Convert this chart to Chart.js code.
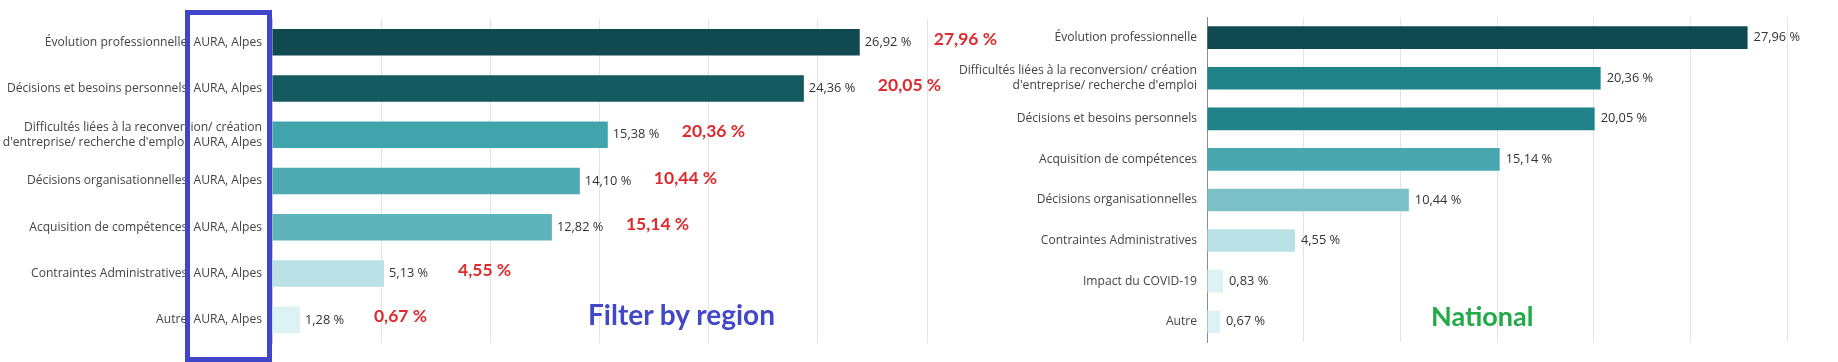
<!DOCTYPE html>
<html>
<head>
<meta charset="utf-8">
<script src="https://cdn.jsdelivr.net/npm/chart.js@4"></script>
<style>
  html, body { margin: 0; padding: 0; background: #fff; }
  body { width: 1838px; height: 362px; position: relative; overflow: hidden; }
  .wrap { position: absolute; top: 0; height: 362px; }
  #wrapRegion { left: 0; width: 1010px; }
  #wrapNational { left: 900px; width: 938px; }
  .note { position: absolute; font-family: Lato, "Open Sans", sans-serif; font-weight: 700; white-space: nowrap; }
  #filterBox { position: absolute; left: 185px; top: 10px; width: 77px; height: 342px; border: 5px solid #4146C8; }
</style>
</head>
<body>
<div class="wrap" id="wrapRegion"><canvas id="chartRegion" width="1010" height="362"></canvas></div>
<div class="wrap" id="wrapNational"><canvas id="chartNational" width="938" height="362"></canvas></div>
<div id="filterBox"></div>
<div class="note" id="lblRegion" style="left:588px; top:297px; font-size:28px; color:#4348C8;">Filter by region</div>
<div class="note" id="lblNational" style="left:1431px; top:299px; font-size:27px; color:#22AA48;">National</div>
<script>
// ---- Data ----
const regionCategories = [
  "Évolution professionnelle, AURA, Alpes",
  "Décisions et besoins personnels, AURA, Alpes",
  ["Difficultés liées à la reconversion/ création", "d'entreprise/ recherche d'emploi, AURA, Alpes"],
  "Décisions organisationnelles, AURA, Alpes",
  "Acquisition de compétences, AURA, Alpes",
  "Contraintes Administratives, AURA, Alpes",
  "Autre, AURA, Alpes"
];
const regionValues = [26.92, 24.36, 15.38, 14.10, 12.82, 5.13, 1.28];
const regionNationalNotes = [27.96, 20.05, 20.36, 10.44, 15.14, 4.55, 0.67];

const nationalCategories = [
  "Évolution professionnelle",
  ["Difficultés liées à la reconversion/ création", "d'entreprise/ recherche d'emploi"],
  "Décisions et besoins personnels",
  "Acquisition de compétences",
  "Décisions organisationnelles",
  "Contraintes Administratives",
  "Impact du COVID-19",
  "Autre"
];
const nationalValues = [27.96, 20.36, 20.05, 15.14, 10.44, 4.55, 0.83, 0.67];

const xTickValues = [0, 5, 10, 15, 20, 25, 30];

// ---- Styles ----
const regionColors = ['#104A50', '#145A60', '#41A4AD', '#4DAAB2', '#5FB4BC', '#BAE2E6', '#DCF2F4'];
const nationalColors = ['#104A50', '#1F8389', '#1F8389', '#49A7B0', '#7CC1C7', '#BAE2E6', '#DCF2F4', '#DCF2F4'];

const fmt = v => v.toFixed(2).replace('.', ',') + ' %';

const valueLabelPlugin = {
  id: 'valueLabels',
  afterDatasetsDraw(chart, args, opts) {
    const ctx = chart.ctx;
    const meta = chart.getDatasetMeta(0);
    const data = chart.data.datasets[0].data;
    ctx.save();
    ctx.textBaseline = 'middle';
    ctx.textAlign = 'left';
    meta.data.forEach((bar, i) => {
      ctx.font = opts.font;
      ctx.fillStyle = '#333333';
      ctx.fillText(fmt(data[i]), bar.x + opts.gap, bar.y);
      if (opts.notes) {
        ctx.font = opts.noteFont;
        ctx.fillStyle = '#DD2A2E';
        ctx.fillText(fmt(opts.notes[i]), bar.x + opts.noteGap, bar.y - 3);
      }
    });
    ctx.restore();
  }
};

function makeChart(id, labels, values, colors, axisWidth, padRight, padTop, padBottom, barPct, borderCol, labelOpts) {
  return new Chart(document.getElementById(id), {
    type: 'bar',
    data: {
      labels: labels,
      datasets: [{
        data: values,
        backgroundColor: colors,
        borderWidth: 0,
        categoryPercentage: 1,
        barPercentage: barPct
      }]
    },
    options: {
      indexAxis: 'y',
      responsive: false,
      animation: false,
      layout: { padding: { left: 0, right: padRight, top: padTop, bottom: padBottom } },
      plugins: {
        legend: { display: false },
        tooltip: { enabled: false },
        valueLabels: labelOpts
      },
      scales: {
        x: {
          min: 0, max: 30,
          afterBuildTicks: s => { s.ticks = xTickValues.map(v => ({ value: v })); },
          afterFit: s => { s.height = 0; },
          ticks: { display: false },
          border: { display: false },
          grid: {
            drawTicks: false,
            color: c => (c.tick && c.tick.value === 0) ? 'rgba(0,0,0,0)' : '#E4E4E4',
            lineWidth: 1
          }
        },
        y: {
          afterFit: s => { s.width = axisWidth; },
          grid: { display: false, drawTicks: false },
          border: { display: true, color: borderCol, width: 1 },
          ticks: {
            padding: 10,
            color: '#444444',
            font: { family: '"Open Sans", sans-serif', size: 12.1, lineHeight: 1.22 }
          }
        }
      }
    },
    plugins: [valueLabelPlugin]
  });
}

makeChart('chartRegion', regionCategories, regionValues, regionColors,
  272, 1010 - 927, 19, 19, 0.573, '#C8C8C8',
  { font: '12.8px "Open Sans", sans-serif', gap: 5, notes: regionNationalNotes,
    noteFont: 'bold 17.5px Lato, "Open Sans", sans-serif', noteGap: 74 });

makeChart('chartNational', nationalCategories, nationalValues, nationalColors,
  307, 938 - 887, 17, 20, 0.557, '#8C8C8C',
  { font: '12.8px "Open Sans", sans-serif', gap: 6 });
</script>
</body>
</html>
